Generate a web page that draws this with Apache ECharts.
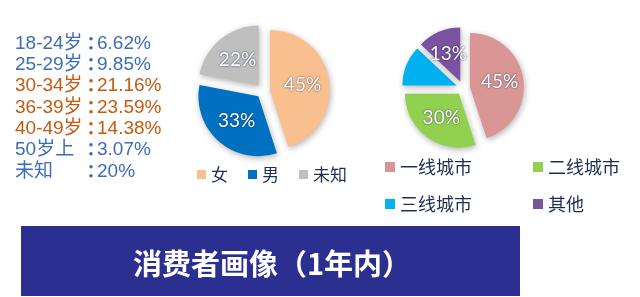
<!DOCTYPE html>
<html>
<head>
<meta charset="utf-8">
<script src="https://cdn.jsdelivr.net/npm/echarts@6/dist/echarts.min.js"></script>
<style>
  html, body { margin: 0; padding: 0; background: #ffffff; }
  #chart { width: 640px; height: 297px; }
</style>
</head>
<body>
<div id="chart"></div>
<script>
// Age distribution (text list on the left)
const ageGroups = ['18-24岁', '25-29岁', '30-34岁', '36-39岁', '40-49岁', '50岁上', '未知'];
const agePercents = ['6.62%', '9.85%', '21.16%', '23.59%', '14.38%', '3.07%', '20%'];
const ageHighlight = [false, false, true, true, true, false, false];

// Gender split
const genderNames = ['女', '男', '未知'];
const genderValues = [45, 33, 22];
const genderColors = ['#F9BF8F', '#0070C0', '#BFBFBF'];

// City tier split
const cityNames = ['一线城市', '二线城市', '三线城市', '其他'];
const cityValues = [45, 30, 12, 13];
const cityColors = ['#D99694', '#92D050', '#00B0F0', '#7A52A0'];

const bannerTitle = '消费者画像（1年内）';

const chart = echarts.init(document.getElementById('chart'), null, { renderer: 'canvas' });

const ageTexts = [];
ageGroups.forEach((g, i) => {
  const color = ageHighlight[i] ? '#C55A11' : '#3D6DB5';
  const y = 45 + i * 21.3;
  ageTexts.push({
    type: 'text', left: 15, top: y - 11,
    style: { text: g, fill: color, font: '19px "Liberation Sans", "Noto Sans CJK SC", sans-serif' }
  });
  ageTexts.push({
    type: 'text', left: 82, top: y - 11,
    style: { text: '：', fill: color, font: 'bold 18px "Noto Sans CJK TC", sans-serif' }
  });
  ageTexts.push({
    type: 'text', left: 97, top: y - 11,
    style: { text: agePercents[i], fill: color, font: '19px "Liberation Sans", sans-serif' }
  });
});

const sliceLabel = {
  show: true,
  position: 'inside',
  formatter: '{c}%',
  color: '#ffffff',
  fontFamily: 'Lato, "Open Sans", sans-serif',
  fontSize: 19,
  textShadowColor: 'rgba(20,30,70,0.85)',
  textShadowBlur: 2
};
const sliceStyle = {
  borderWidth: 0,
  shadowBlur: 6,
  shadowColor: 'rgba(0,0,0,0.3)',
  shadowOffsetX: 1,
  shadowOffsetY: 2
};

function pieData(names, values, colors) {
  return names.map((n, i) => ({ name: n, value: values[i], selected: true, itemStyle: { color: colors[i] } }));
}

const legendText = { color: '#1F2D50', fontSize: 17, fontFamily: '"Noto Sans CJK SC", sans-serif' };

chart.setOption({
  animation: false,
  backgroundColor: '#ffffff',
  legend: [
    {
      data: genderNames, left: 192, top: 161, orient: 'horizontal',
      icon: 'rect', itemWidth: 9, itemHeight: 9, itemGap: 20,
      textStyle: legendText, selectedMode: false
    },
    {
      data: cityNames.slice(0, 2), left: 380, top: 153, orient: 'horizontal',
      icon: 'rect', itemWidth: 10, itemHeight: 10, itemGap: 61,
      textStyle: Object.assign({}, legendText, { fontSize: 18 }), selectedMode: false
    },
    {
      data: cityNames.slice(2), left: 380, top: 190, orient: 'horizontal',
      icon: 'rect', itemWidth: 10, itemHeight: 10, itemGap: 61,
      textStyle: Object.assign({}, legendText, { fontSize: 18 }), selectedMode: false
    }
  ],
  series: [
    {
      type: 'pie', name: 'gender',
      center: [263, 91], radius: [0, 60], startAngle: 90, clockwise: true,
      selectedMode: 'multiple', selectedOffset: 7,
      avoidLabelOverlap: false,
      label: sliceLabel, labelLine: { show: false },
      itemStyle: sliceStyle,
      emphasis: { disabled: true },
      data: pieData(genderNames, genderValues, genderColors)
    },
    {
      type: 'pie', name: 'city',
      center: [463, 88], radius: [0, 54], startAngle: 90, clockwise: true,
      selectedMode: 'multiple', selectedOffset: 7,
      avoidLabelOverlap: false,
      label: sliceLabel, labelLine: { show: false },
      itemStyle: sliceStyle,
      emphasis: { disabled: true },
      data: pieData(cityNames, cityValues, cityColors)
    }
  ],
  graphic: ageTexts.concat([
    {
      type: 'rect', left: 21, top: 226,
      shape: { width: 499, height: 70 },
      style: { fill: '#2B3090' }
    },
    {
      type: 'text', left: 133, top: 249,
      style: {
        text: bannerTitle, fill: '#ffffff',
        font: 'bold 29px "Noto Sans CJK SC", sans-serif'
      }
    }
  ])
});
</script>
</body>
</html>
